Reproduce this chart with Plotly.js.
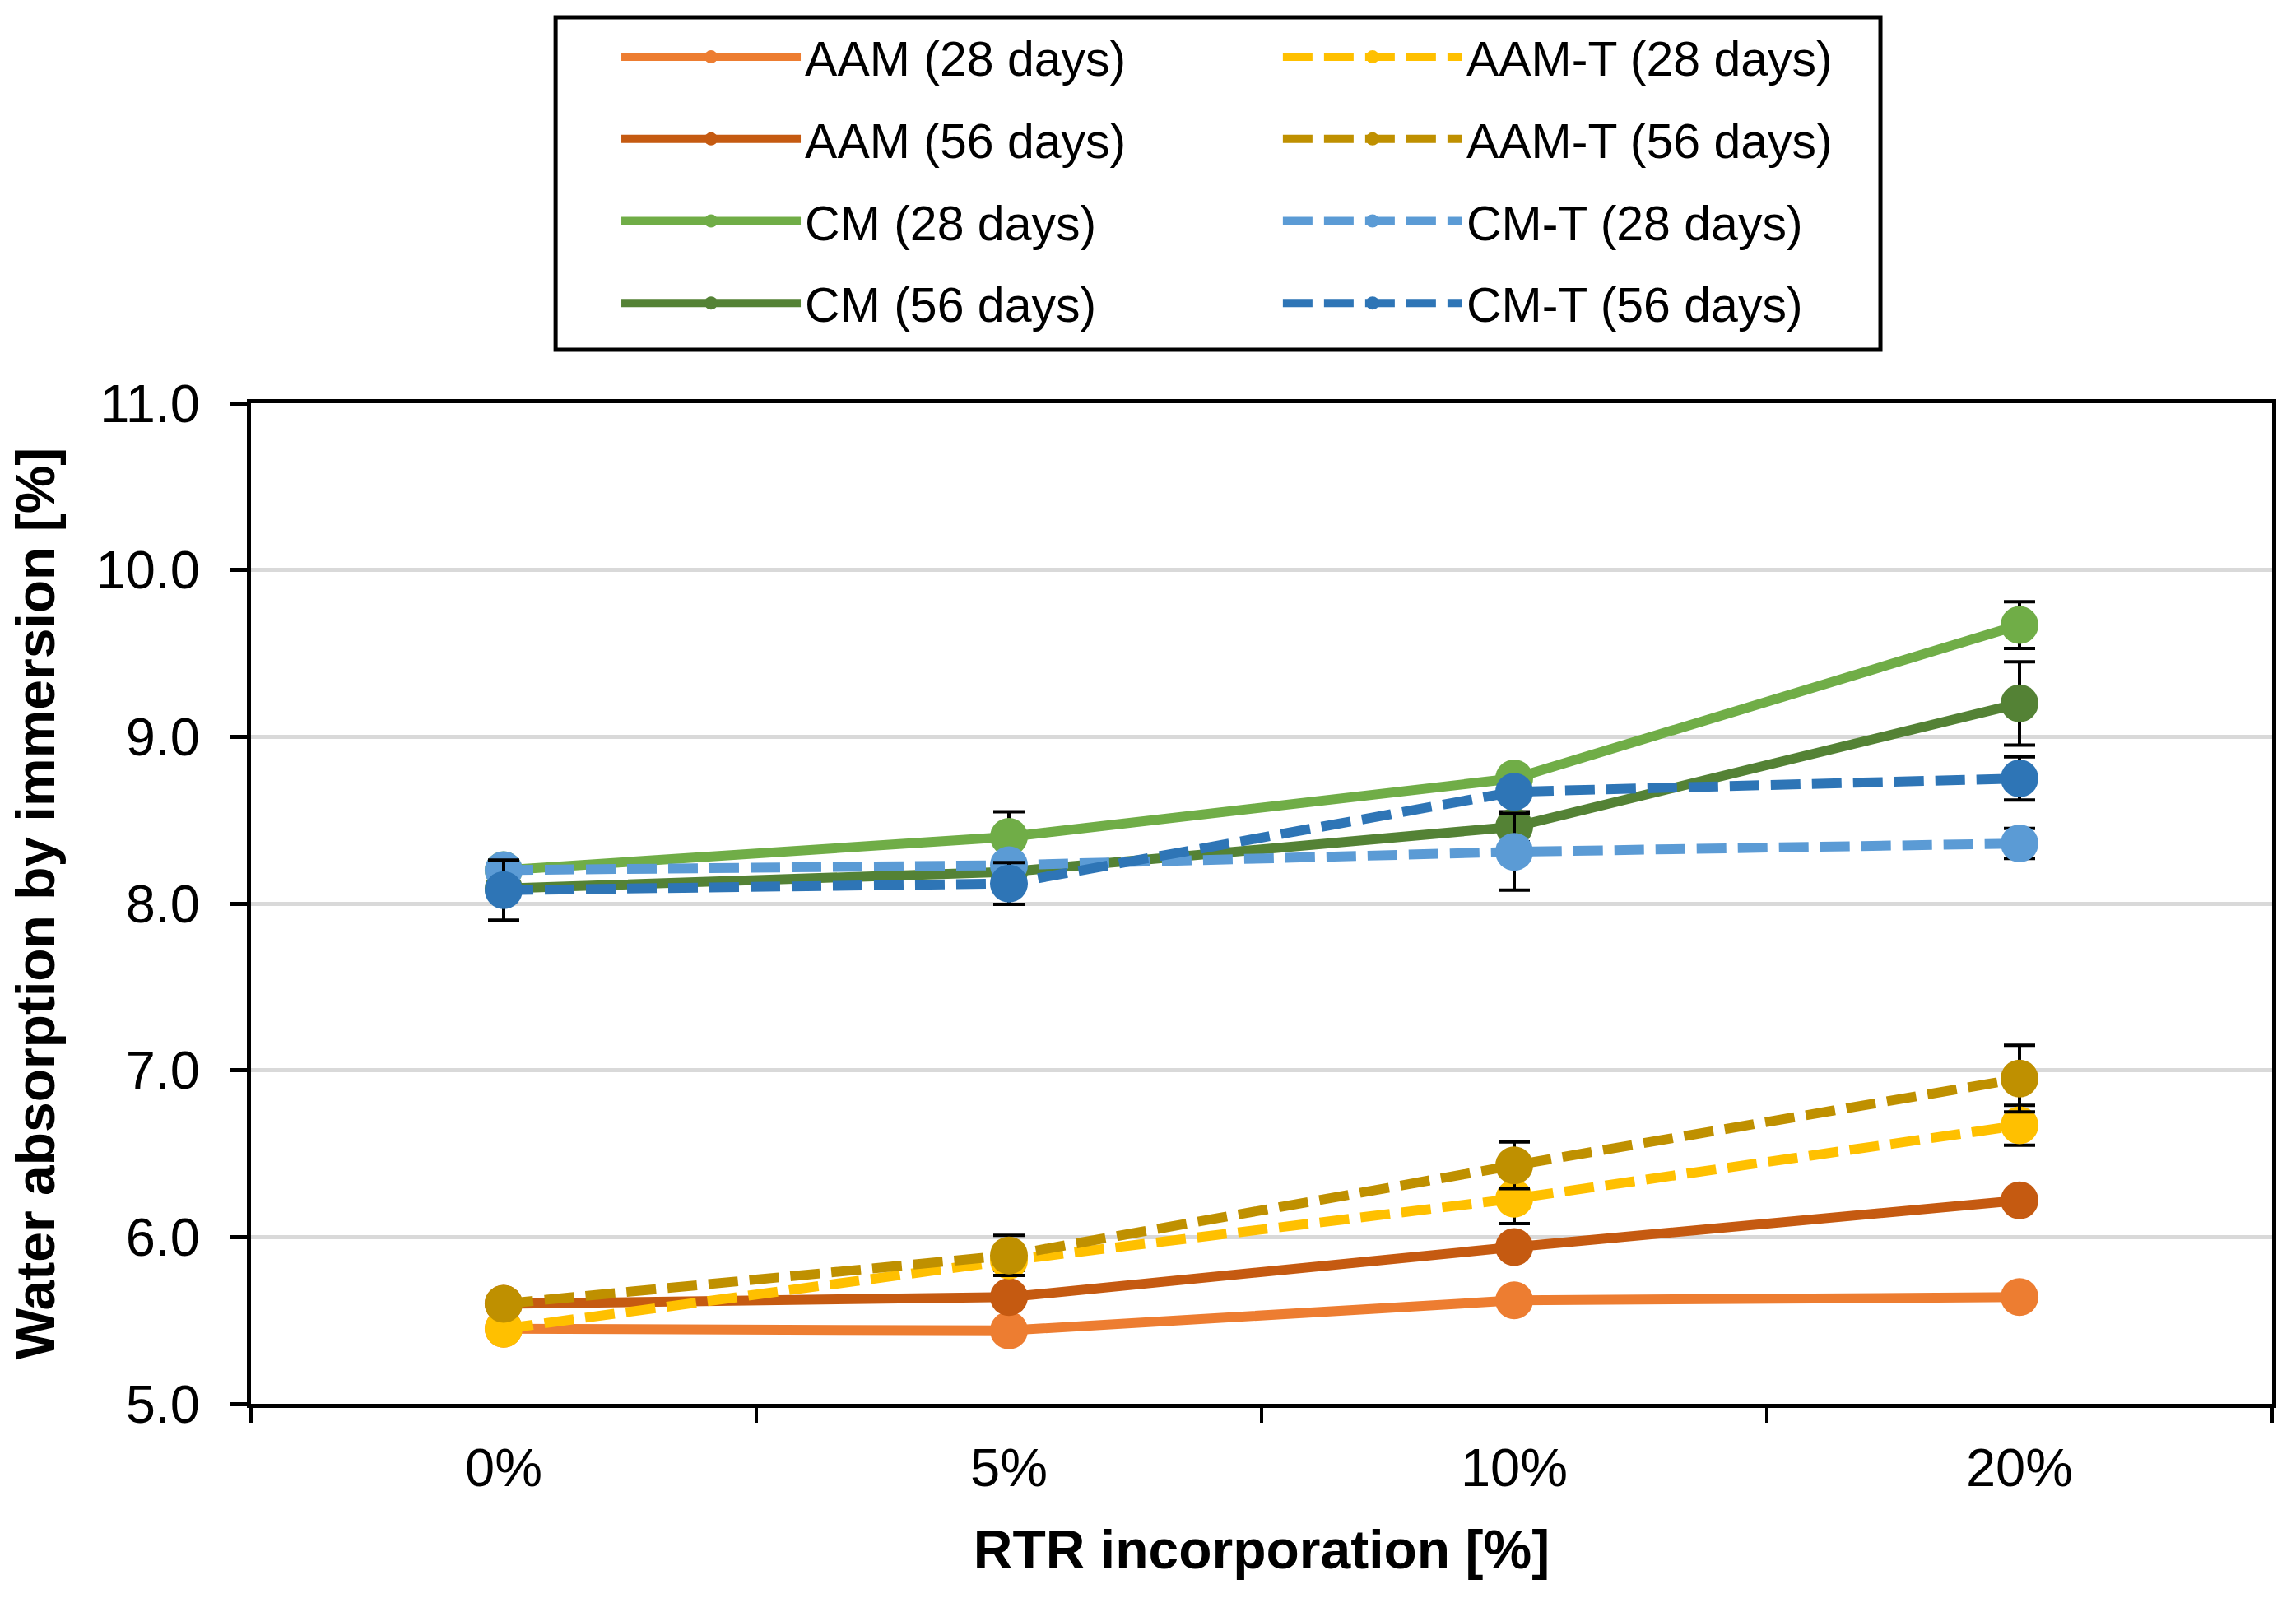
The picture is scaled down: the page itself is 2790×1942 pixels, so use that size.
<!DOCTYPE html>
<html>
<head>
<meta charset="utf-8">
<script src="https://cdn.plot.ly/plotly-3.0.1.min.js"></script>
<style>html,body{margin:0;padding:0;background:#fff;}#chart{width:2790px;height:1942px;}</style>
</head>
<body>
<div id="chart"></div>
<script>
// ---- data ----
const categories = ['0%', '5%', '10%', '20%'];

const aam28 = [5.45, 5.44, 5.62, 5.64];
const aam28Err = [0.03, 0.04, 0.05, 0.03];
const aam56 = [5.60, 5.64, 5.94, 6.22];
const aam56Err = [0.03, 0.05, 0.04, 0.03];
const cm28 = [8.20, 8.40, 8.75, 9.67];
const cm28Err = [0.03, 0.15, 0.05, 0.14];
const cm56 = [8.09, 8.19, 8.46, 9.20];
const cm56Err = [0.03, 0.05, 0.09, 0.25];
const aamT28 = [5.45, 5.86, 6.23, 6.67];
const aamT28Err = [0.04, 0.06, 0.15, 0.12];
const aamT56 = [5.60, 5.89, 6.43, 6.95];
const aamT56Err = [0.03, 0.12, 0.14, 0.20];
const cmT28 = [8.20, 8.23, 8.31, 8.36];
const cmT28Err = [0.03, 0.05, 0.23, 0.09];
const cmT56 = [8.08, 8.12, 8.67, 8.75];
const cmT56Err = [0.18, 0.125, 0.05, 0.13];

const seriesNames = ['AAM (28 days)', 'AAM (56 days)', 'CM (28 days)', 'CM (56 days)',
                     'AAM-T (28 days)', 'AAM-T (56 days)', 'CM-T (28 days)', 'CM-T (56 days)'];
const seriesValues = [aam28, aam56, cm28, cm56, aamT28, aamT56, cmT28, cmT56];
const seriesErrors = [aam28Err, aam56Err, cm28Err, cm56Err, aamT28Err, aamT56Err, cmT28Err, cmT56Err];
const seriesColors = ['#ED7D31', '#C55A11', '#70AD47', '#548235', '#FFC000', '#BF9000', '#5B9BD5', '#2E75B6'];
const yTickVals = [5, 6, 7, 8, 9, 10, 11];

// ---- traces ----
const FONT = 'Liberation Sans, Arial, sans-serif';
const traces = seriesNames.map((name, i) => {
  const dashed = i >= 4;
  return {
    type: 'scatter',
    mode: 'lines+markers',
    name: name,
    x: categories,
    y: seriesValues[i],
    legend: dashed ? 'legend2' : 'legend',
    legendgroup: 'g' + i,
    line: { color: seriesColors[i], width: 12, dash: dashed ? '36px,14px' : 'solid' },
    marker: { color: seriesColors[i], size: 46, line: { width: 0 } },
    error_y: { type: 'data', array: seriesErrors[i], visible: true, color: '#000000', thickness: 4, width: 19 },
    cliponaxis: false
  };
});

const legendCommon = {
  orientation: 'v',
  xanchor: 'left',
  yanchor: 'top',
  font: { family: FONT, size: 59, color: '#000000' },
  bgcolor: 'rgba(0,0,0,0)',
  borderwidth: 0,
  tracegroupgap: 20,
  itemwidth: 218,
  traceorder: 'grouped',
  itemclick: false
};

const layout = {
  width: 2790,
  height: 1942,
  margin: { l: 305, r: 29, t: 490, b: 236 },
  paper_bgcolor: '#ffffff',
  plot_bgcolor: '#ffffff',
  font: { family: FONT, color: '#000000' },
  showlegend: true,
  legend: Object.assign({}, legendCommon, { x: 0.1812, y: 1.383 }),
  legend2: Object.assign({}, legendCommon, { x: 0.5085, y: 1.383 }),
  xaxis: {
    type: 'category',
    categoryorder: 'array',
    categoryarray: categories,
    range: [-0.5, 3.5],
    tickson: 'boundaries',
    ticks: 'outside',
    ticklen: 18,
    tickwidth: 4,
    tickcolor: '#000000',
    ticklabelstandoff: 17,
    showline: true,
    linecolor: '#000000',
    linewidth: 5,
    mirror: true,
    showgrid: false,
    zeroline: false,
    tickfont: { family: FONT, size: 65, color: '#000000' },
    title: { text: 'RTR incorporation [%]', font: { family: FONT, size: 66, weight: 'bold', color: '#000000' }, standoff: 42 }
  },
  yaxis: {
    range: [5, 11],
    tickvals: yTickVals,
    tickformat: '.1f',
    ticks: 'outside',
    ticklen: 21,
    tickwidth: 5,
    tickcolor: '#000000',
    ticklabelstandoff: 23,
    showline: true,
    linecolor: '#000000',
    linewidth: 5,
    mirror: true,
    showgrid: true,
    gridcolor: '#D9D9D9',
    gridwidth: 5,
    zeroline: false,
    tickfont: { family: FONT, size: 65, color: '#000000' },
    title: { text: 'Water absorption by immersion [%]', font: { family: FONT, size: 66, weight: 'bold', color: '#000000' }, standoff: 30 }
  },
  shapes: [{
    type: 'rect', xref: 'paper', yref: 'paper',
    x0: 0.1507, x1: 0.8062, y0: 1.0535, y1: 1.3857,
    line: { color: '#000000', width: 5 }, fillcolor: 'rgba(0,0,0,0)'
  }]
};

Plotly.newPlot('chart', traces, layout, { displayModeBar: false, staticPlot: true });
</script>
</body>
</html>
